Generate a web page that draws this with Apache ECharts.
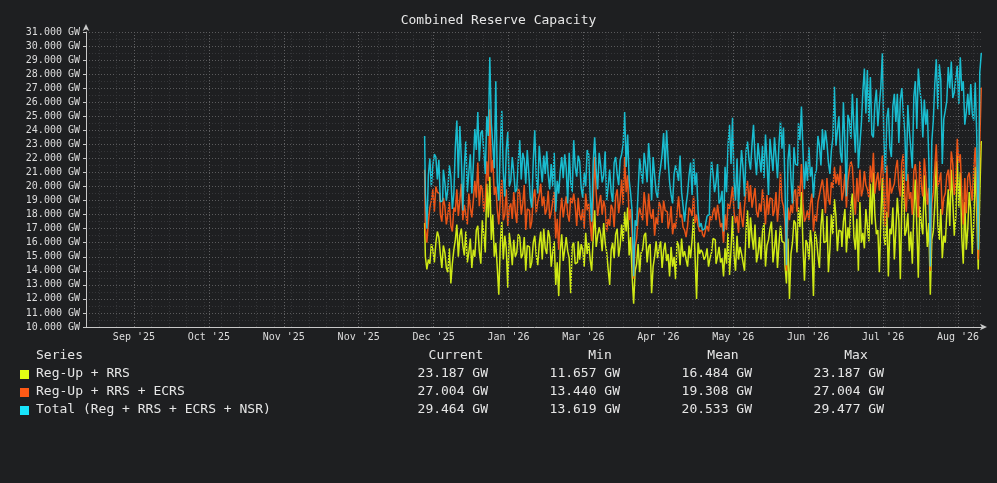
<!DOCTYPE html>
<html>
<head>
<meta charset="utf-8">
<script src="https://cdn.jsdelivr.net/npm/echarts@6/dist/echarts.min.js"></script>
<style>
  html, body { margin: 0; padding: 0; background: #1e1f21; }
  #chart { width: 997px; height: 483px; }
</style>
</head>
<body>
<div id="chart"></div>
<script>
// x position of each sample, in days after the "Sep '25" gridline
const startDay = 116.4;
const stepDays = 0.6;

// tick labels along the bottom (one every 30 days, as printed)
const monthLabels = ["Sep '25", "Oct '25", "Nov '25", "Nov '25", "Dec '25", "Jan '26",
                     "Mar '26", "Apr '26", "May '26", "Jun '26", "Jul '26", "Aug '26"];
const majorDays = [0, 30, 60, 90, 120, 150, 180, 210, 240, 270, 300, 330];
const minorDays = [-14, -7, 7, 14, 21, 28, 35, 42, 49, 56, 63, 70, 77, 84, 91, 98, 105, 112, 119,
                   126, 133, 140, 147, 154, 161, 168, 175, 182, 189, 196, 203, 210, 217, 224, 231,
                   238, 245, 252, 259, 266, 273, 280, 287, 294, 301, 308, 315, 322, 329, 336];

// Reg-Up + RRS (GW)
const regRrs = [
  17.4, 15.0, 14.1, 14.8, 14.5, 15.9, 15.5, 14.6, 16.0, 16.8,
  16.4, 15.2, 14.2, 15.8, 15.3, 14.2, 13.9, 15.6, 13.1, 14.5,
  15.5, 16.2, 17.3, 15.0, 16.5, 17.0, 15.8, 15.1, 16.8, 14.6,
  15.3, 16.3, 14.2, 15.5, 15.0, 16.9, 17.2, 15.4, 14.5, 17.6,
  16.6, 15.3, 20.2, 17.8, 20.7, 16.2, 18.0, 15.0, 16.0, 14.2,
  12.3, 15.9, 17.5, 14.8, 16.5, 15.6, 12.8, 16.7, 15.8, 14.4,
  16.2, 15.0, 15.3, 16.6, 16.4, 14.9, 15.2, 16.4, 14.0, 15.8,
  15.7, 14.2, 14.6, 16.0, 16.5, 15.1, 14.4, 15.9, 16.8, 14.8,
  17.0, 15.6, 15.2, 16.9, 16.4, 14.3, 15.3, 16.1, 13.0, 14.6,
  12.2, 15.4, 16.6, 14.7, 15.5, 16.4, 15.4, 14.9, 12.4, 15.8,
  16.0, 14.5, 14.6, 16.1, 14.8, 15.9, 15.5, 14.3, 16.7, 15.2,
  16.0, 14.8, 14.0, 16.4, 18.3, 15.7, 16.5, 17.1, 16.6, 15.4,
  17.4, 16.0, 15.3, 14.1, 13.0, 15.5, 16.0, 14.9, 16.6, 17.0,
  15.0, 15.8, 17.3, 16.1, 18.2, 16.8, 18.5, 15.1, 16.4, 13.6,
  11.657, 14.0, 14.5, 15.9, 13.9, 15.3, 15.5, 16.5, 16.7, 14.6,
  15.7, 15.9, 12.4, 14.3, 15.0, 16.1, 14.9, 15.6, 16.1, 14.2,
  15.4, 16.0, 14.7, 15.2, 13.6, 15.7, 14.3, 15.0, 13.4, 16.1,
  15.8, 14.4, 16.3, 15.0, 15.4, 14.8, 14.3, 15.8, 14.9, 16.2,
  17.8, 15.0, 12.0, 16.0, 15.2, 15.5, 15.3, 14.8, 15.0, 15.6,
  14.3, 14.9, 15.3, 16.3, 16.2, 14.5, 15.0, 15.7, 14.6, 14.9,
  13.6, 15.6, 14.5, 16.7, 13.7, 15.5, 17.9, 15.1, 14.0, 16.5,
  14.8, 15.7, 15.2, 14.6, 14.0, 16.8, 18.3, 15.6, 17.8, 16.4,
  15.5, 17.3, 14.6, 15.2, 16.4, 14.8, 16.8, 17.4, 14.3, 15.8,
  16.2, 17.0, 17.5, 14.6, 15.6, 16.9, 14.2, 15.9, 17.2, 16.1,
  16.0, 14.4, 13.1, 16.3, 12.0, 15.2, 16.0, 17.6, 17.4, 15.3,
  18.5, 17.1, 19.6, 15.8, 13.3, 16.2, 15.9, 14.8, 16.9, 15.7,
  12.2, 16.8, 16.3, 15.1, 14.2, 17.2, 18.4, 16.0, 16.1, 17.9,
  13.9, 15.6, 18.0, 16.6, 19.1, 17.9, 15.4, 16.9, 16.8, 15.7,
  17.5, 18.4, 15.3, 17.1, 16.3, 18.6, 19.5, 16.4, 15.5, 17.7,
  14.0, 18.9, 16.0, 16.7, 15.6, 18.4, 17.2, 16.1, 20.2, 17.3,
  21.0, 18.0, 16.6, 16.9, 13.9, 17.8, 20.6, 16.4, 15.8, 18.2,
  13.6, 17.0, 16.6, 18.5, 14.8, 16.9, 19.2, 17.6, 13.4, 18.8,
  21.2, 16.5, 16.9, 18.1, 15.4, 16.8, 14.5, 18.3, 20.5, 17.2,
  13.5, 18.6, 17.4, 16.6, 20.8, 18.0, 15.7, 17.4, 12.3, 16.2,
  16.8, 18.7, 21.8, 17.3, 16.2, 18.4, 14.9, 16.5, 16.0, 18.1,
  19.8, 17.2, 21.2, 19.0, 16.5, 17.8, 22.2, 18.5, 21.0, 16.4,
  14.5, 18.9, 15.5, 17.0, 19.6, 18.3, 15.2, 17.5, 21.4, 18.0,
  14.1, 19.4, 23.187
];

// Reg-Up + RRS + ECRS (GW)
const regRrsEcrs = [
  21.2, 17.0, 16.0, 17.5, 18.5, 19.0, 19.8, 18.2, 20.0, 19.6,
  19.5, 18.0, 17.5, 19.2, 18.6, 17.3, 18.0, 18.9, 17.2, 16.8,
  18.5, 18.2, 19.8, 17.9, 19.0, 20.2, 17.6, 18.7, 18.0, 17.3,
  19.5, 18.5, 17.8, 19.0, 20.4, 19.2, 21.7, 18.6, 20.1, 19.8,
  18.2, 19.0, 21.8, 20.4, 25.5, 21.0, 21.9, 19.4, 20.0, 18.3,
  17.3, 19.1, 20.5, 17.6, 18.0, 19.8, 17.2, 18.5, 18.8, 17.7,
  19.6, 18.2, 17.4, 19.9, 19.5, 18.0, 18.8, 20.1, 16.9, 18.4,
  18.3, 17.0, 17.5, 19.2, 19.8, 18.1, 18.9, 19.4, 20.2, 18.6,
  19.3, 18.0, 18.4, 19.7, 17.7, 18.2, 18.9, 19.6, 16.3, 17.7,
  15.5, 18.1, 19.2, 17.8, 18.6, 19.3, 18.0, 17.5, 19.2, 18.8,
  19.5, 18.6, 17.2, 19.2, 18.0, 17.6, 18.4, 17.0, 19.5, 18.3,
  18.8, 17.4, 16.1, 18.9, 22.1, 19.6, 17.9, 18.8, 19.4, 18.0,
  19.0, 18.5, 16.8, 17.7, 17.2, 18.7, 18.4, 17.1, 19.3, 19.8,
  18.1, 19.0, 20.5, 18.7, 22.1, 19.6, 20.8, 17.6, 18.4, 16.5,
  13.44, 15.7, 16.3, 17.8, 18.5, 18.0, 17.6, 19.6, 18.6, 17.2,
  19.5, 18.1, 17.7, 18.4, 16.5, 17.8, 17.3, 18.9, 18.6, 17.4,
  19.0, 18.3, 18.2, 17.0, 17.5, 18.6, 16.6, 17.4, 17.0, 18.2,
  19.3, 17.8, 18.0, 17.1, 16.9, 16.4, 17.2, 18.5, 18.3, 17.9,
  19.3, 17.4, 18.0, 17.2, 16.8, 16.9, 16.6, 16.4, 16.9, 17.2,
  16.8, 17.9, 17.6, 18.2, 18.5, 17.6, 18.7, 17.9, 17.1, 17.4,
  16.0, 18.0, 16.9, 18.8, 18.4, 19.1, 20.0, 18.2, 17.4, 17.9,
  16.7, 18.9, 17.8, 17.1, 18.6, 19.7, 20.4, 18.9, 20.1, 18.5,
  19.2, 19.9, 18.2, 17.8, 18.8, 18.2, 19.8, 18.9, 17.3, 19.4,
  18.0, 19.2, 19.1, 17.9, 18.3, 19.6, 17.5, 18.8, 21.0, 19.0,
  18.6, 17.5, 14.0, 18.5, 17.6, 18.7, 18.1, 19.6, 19.8, 18.2,
  20.1, 19.3, 21.6, 18.9, 17.5, 17.8, 18.3, 17.6, 18.8, 19.5,
  16.8, 18.0, 17.5, 18.9, 19.4, 20.0, 20.5, 19.6, 18.1, 20.6,
  19.1, 18.7, 20.3, 19.9, 21.4, 20.2, 20.9, 20.1, 21.5, 19.0,
  19.6, 20.9, 18.5, 20.4, 21.2, 21.8, 21.4, 19.4, 18.0, 20.6,
  18.9, 21.2, 19.3, 19.8, 21.1, 20.1, 19.8, 19.2, 21.5, 20.3,
  22.4, 19.5, 20.4, 21.0, 19.7, 20.8, 22.2, 19.6, 17.2, 21.5,
  17.8, 20.6, 19.5, 19.9, 20.2, 21.3, 21.9, 20.0, 19.3, 21.7,
  22.3, 19.4, 18.2, 20.9, 19.1, 19.6, 18.0, 21.1, 21.6, 20.2,
  17.8, 21.8, 20.1, 19.3, 22.0, 20.7, 18.7, 19.9, 14.0, 18.8,
  19.6, 21.4, 23.0, 20.0, 20.4, 21.0, 18.0, 19.2, 19.5, 20.8,
  21.2, 19.7, 22.5, 21.6, 19.4, 20.3, 23.4, 21.7, 22.3, 19.5,
  17.3, 20.6, 18.1, 20.7, 21.0, 19.8, 19.0, 21.3, 22.8, 20.1,
  14.8, 23.2, 27.004
];

// Total (Reg + RRS + ECRS + NSR) (GW)
const totalReserve = [
  23.6, 19.5, 17.0, 20.8, 22.0, 20.0, 21.5, 22.3, 22.1, 20.5,
  21.9, 18.9, 19.0, 21.2, 20.3, 19.0, 19.8, 21.5, 20.7, 18.4,
  19.5, 22.8, 24.7, 20.6, 24.3, 22.0, 18.3, 21.4, 23.2, 19.6,
  21.0, 22.3, 19.5, 21.5, 24.1, 22.6, 25.3, 21.8, 23.8, 24.0,
  22.5, 20.9, 25.0, 23.6, 29.2, 24.5, 23.0, 21.3, 27.5, 20.3,
  19.0, 22.9, 25.4, 21.0, 19.3, 22.6, 23.9, 20.0, 20.4, 22.1,
  21.0, 19.6, 19.8, 21.8, 23.3, 20.5, 22.4, 21.9, 20.2, 22.6,
  21.0, 19.2, 18.5, 21.8, 24.0, 20.7, 19.5, 22.9, 21.5, 20.3,
  22.2, 20.9, 22.5, 20.8, 19.8, 21.6, 20.0, 22.4, 18.2, 20.4,
  19.5, 21.1, 22.1, 20.6, 22.3, 21.3, 18.8, 22.4, 20.3, 19.6,
  23.3, 21.4, 20.7, 22.2, 21.8, 19.9, 19.2, 21.0, 20.0, 22.6,
  22.3, 19.3, 17.5, 21.7, 23.5, 21.2, 19.8, 22.4, 21.5, 20.3,
  20.8, 22.5, 19.0, 20.0, 21.2, 19.6, 18.9, 21.7, 22.1, 20.9,
  20.1, 21.9, 22.3, 23.0, 25.3, 21.4, 23.7, 20.5, 19.5, 18.2,
  13.619, 17.6, 17.2, 19.7, 22.0, 21.0, 20.2, 22.4, 21.5, 20.3,
  23.1, 21.6, 19.0, 22.1, 20.8, 19.6, 19.2, 20.6, 21.4, 22.3,
  23.8, 21.2, 24.0, 21.9, 20.3, 19.4, 18.8, 20.9, 21.5, 21.0,
  20.4, 22.2, 19.6, 18.6, 17.5, 18.7, 19.5, 20.8, 21.7, 19.4,
  22.0, 20.1, 21.0, 18.2, 17.1, 17.4, 16.9, 17.0, 17.3, 17.9,
  18.0, 20.2, 21.8, 20.9, 19.6, 20.3, 21.6, 18.8, 19.0, 19.7,
  16.8, 21.4, 19.6, 22.9, 24.4, 21.6, 24.9, 20.4, 19.0, 22.0,
  18.4, 20.7, 22.6, 21.3, 19.3, 22.5, 23.2, 21.9, 21.2, 23.0,
  24.4, 22.1, 20.8, 23.1, 22.0, 21.0, 22.9, 20.6, 23.7, 21.8,
  19.4, 23.4, 22.2, 21.1, 23.5, 22.1, 20.6, 23.0, 24.6, 22.7,
  24.2, 20.1, 14.4, 21.9, 23.0, 20.5, 18.8, 22.8, 21.6, 21.5,
  24.5, 23.3, 25.7, 22.6, 19.8, 21.8, 20.4, 22.8, 20.7, 21.4,
  19.2, 20.8, 21.2, 23.6, 22.9, 21.5, 24.1, 22.6, 24.0, 23.1,
  21.7, 20.9, 22.6, 23.5, 27.1, 22.9, 24.0, 25.0, 22.4, 21.7,
  26.0, 23.0, 19.3, 25.1, 24.7, 23.4, 26.6, 24.2, 22.4, 26.3,
  21.3, 23.0, 24.5, 26.8, 28.4, 25.2, 28.3, 24.6, 27.8, 23.7,
  23.5, 25.9, 26.9, 24.3, 25.8, 27.1, 29.477, 23.3, 21.0, 24.9,
  25.6, 22.8, 22.1, 25.7, 26.6, 24.6, 26.6, 23.1, 26.2, 27.0,
  25.2, 23.8, 20.4, 25.8, 24.0, 22.7, 21.3, 26.4, 27.5, 24.1,
  28.4, 26.9, 26.0, 23.5, 26.2, 24.4, 25.5, 21.9, 14.3, 23.2,
  24.7, 27.3, 29.05, 25.5, 28.7, 27.6, 21.6, 24.8, 25.4, 26.1,
  28.5, 27.0, 28.9, 26.3, 26.7, 27.7, 28.6, 25.9, 29.2, 26.8,
  27.5, 24.4, 25.3, 26.6, 25.1, 27.3, 25.2, 24.7, 27.4, 23.6,
  15.5, 28.1, 29.464
];

// legend table
const seriesNames = ['Reg-Up + RRS', 'Reg-Up + RRS + ECRS', 'Total (Reg + RRS + ECRS + NSR)'];
const seriesColors = ['#e2ff14', '#ff5a16', '#18e4fb'];
const statCurrent = ['23.187 GW', '27.004 GW', '29.464 GW'];
const statMin = ['11.657 GW', '13.440 GW', '13.619 GW'];
const statMean = ['16.484 GW', '19.308 GW', '20.533 GW'];
const statMax = ['23.187 GW', '27.004 GW', '29.477 GW'];

const FONT = '"DejaVu Sans Mono", "Liberation Mono", monospace';
const chart = echarts.init(document.getElementById('chart'));

function toPoints(values) {
    return values.map((v, i) => [startDay + i * stepDays, v]);
}

// grid lines on x have to sit on fixed days, so draw them as mark lines
function vLines(days, color) {
    return {
        silent: true,
        symbol: ['none', 'none'],
        label: { show: false },
        emphasis: { disabled: true },
        lineStyle: { color: color, width: 1, type: [1, 2] },
        data: days.map(d => ({ xAxis: d }))
    };
}

// legend table drawn as text
const legendTop = 356;
const rowGap = 18;
const graphics = [];
function txt(x, y, text, align) {
    graphics.push({
        type: 'text', silent: true,
        x: x, y: y,
        style: { text: text, fill: '#e6e6e6', font: '13px ' + FONT, align: align, verticalAlign: 'middle' }
    });
}
txt(36, legendTop, 'Series', 'left');
txt(456, legendTop, 'Current', 'center');
txt(600, legendTop, 'Min', 'center');
txt(723, legendTop, 'Mean', 'center');
txt(856, legendTop, 'Max', 'center');
seriesNames.forEach((name, i) => {
    const y = legendTop + rowGap * (i + 1);
    graphics.push({
        type: 'rect', silent: true,
        shape: { x: 20, y: y - 4, width: 9, height: 9 },
        style: { fill: seriesColors[i] }
    });
    txt(36, y, name, 'left');
    txt(488, y, statCurrent[i], 'right');
    txt(620, y, statMin[i], 'right');
    txt(752, y, statMean[i], 'right');
    txt(884, y, statMax[i], 'right');
});

// draw order: yellow, orange, then the total on top (as in the picture)
const lineSeries = [0, 1, 2].map(i => ({
    name: seriesNames[i], type: 'line', step: 'middle', showSymbol: false,
    data: toPoints([regRrs, regRrsEcrs, totalReserve][i]),
    lineStyle: { color: seriesColors[i], width: 1.5, opacity: i === 2 ? 0.8 : 0.9 }
}));

const option = {
    backgroundColor: '#1e1f21',
    animation: false,
    title: {
        text: 'Combined Reserve Capacity',
        left: 'center',
        top: 9,
        textStyle: { color: '#e6e6e6', fontFamily: FONT, fontSize: 13, fontWeight: 'normal' }
    },
    grid: { left: 86, right: 14, top: 32, bottom: 156 },
    xAxis: {
        type: 'value',
        min: -19.2,
        max: 340,
        axisLine: {
            onZero: false,
            lineStyle: { color: '#c8c8c8', width: 1 },
            symbol: ['none', 'arrow'],
            symbolSize: [5, 7],
            symbolOffset: [0, 4]
        },
        axisTick: { show: false },
        splitLine: { show: false },
        axisLabel: {
            customValues: majorDays,
            color: '#dcdcdc',
            fontFamily: FONT,
            fontSize: 10,
            margin: 5,
            formatter: v => monthLabels[Math.round(v / 30)] || ''
        }
    },
    yAxis: {
        type: 'value',
        min: 10,
        max: 31,
        interval: 1,
        axisLine: {
            show: true,
            onZero: false,
            lineStyle: { color: '#c8c8c8', width: 1 },
            symbol: ['none', 'arrow'],
            symbolSize: [5, 7],
            symbolOffset: [0, 8]
        },
        axisTick: { show: true, length: 3, lineStyle: { color: '#c8c8c8' } },
        minorTick: { show: false, splitNumber: 2 },
        minorSplitLine: { show: true, lineStyle: { color: '#353639', type: [1, 2] } },
        splitLine: { show: true, lineStyle: { color: '#5a5a5c', type: [1, 2] } },
        axisLabel: {
            color: '#dcdcdc',
            fontFamily: FONT,
            fontSize: 10,
            margin: 6,
            formatter: v => v.toFixed(3) + ' GW'
        }
    },
    series: [
        {
            name: 'grid-minor', type: 'line', data: [], z: 0,
            markLine: vLines(minorDays, '#353639')
        },
        {
            name: 'grid-major', type: 'line', data: [], z: 0,
            markLine: vLines(majorDays, '#606062')
        }
    ].concat(lineSeries),
    graphic: graphics
};

chart.setOption(option);
</script>
</body>
</html>
